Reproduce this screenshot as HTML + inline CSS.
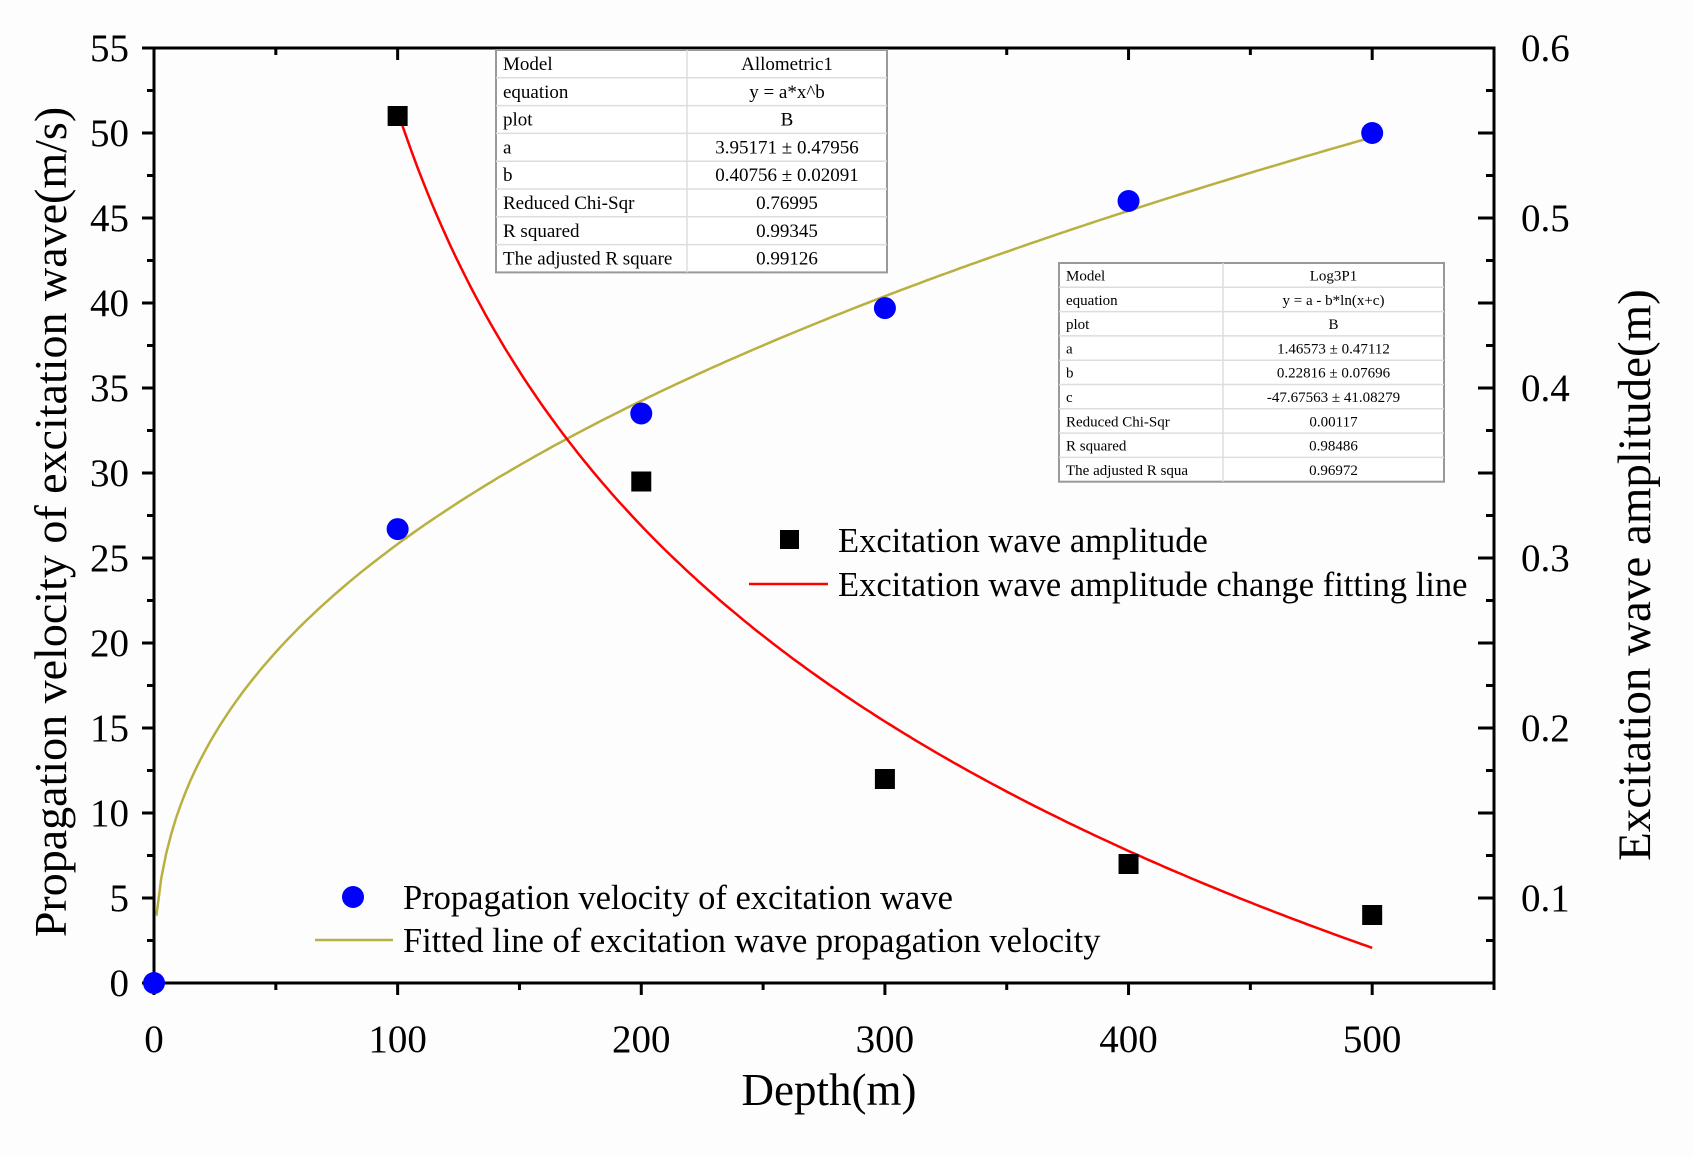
<!DOCTYPE html>
<html><head><meta charset="utf-8"><style>
html,body{margin:0;padding:0;background:#fff}
svg{display:block;font-family:"Liberation Serif",serif}
</style></head><body>
<svg id="chart" width="1694" height="1157" viewBox="0 0 1694 1157" xmlns="http://www.w3.org/2000/svg">
<rect x="0" y="0" width="1694" height="1157" fill="#fdfdfd"/>
<g id="grid"></g>
<g id="curves"></g>
<g id="marks"></g>
<g id="tables"></g>
<g id="legend"></g>
<text x="829" y="1105" font-size="45" text-anchor="middle">Depth(m)</text>
<text transform="translate(66,522) rotate(-90)" font-size="46" text-anchor="middle">Propagation velocity of excitation wave(m/s)</text>
<text transform="translate(1650,575) rotate(-90)" font-size="47" text-anchor="middle">Excitation wave amplitude(m)</text>
</svg>
<script>
const depths = [0, 100, 200, 300, 400, 500];
const velocity = [0, 26.7, 33.5, 39.7, 46.0, 50.0];
const ampDepths = [100, 200, 300, 400, 500];
const amplitude = [0.56, 0.345, 0.17, 0.12, 0.09];
const xTicks = [0, 100, 200, 300, 400, 500];
const yLeftTicks = [0, 5, 10, 15, 20, 25, 30, 35, 40, 45, 50, 55];
const yRightTicks = [0.1, 0.2, 0.3, 0.4, 0.5, 0.6];
const allomParams = [3.95171, 0.40756];
const logParams = [1.46573, 0.22816, -47.67563];
const table1Rows = [["Model","Allometric1"],["equation","y = a*x^b"],["plot","B"],["a","3.95171 ± 0.47956"],["b","0.40756 ± 0.02091"],["Reduced Chi-Sqr","0.76995"],["R squared","0.99345"],["The adjusted R square","0.99126"]];
const table2Rows = [["Model","Log3P1"],["equation","y = a - b*ln(x+c)"],["plot","B"],["a","1.46573 ± 0.47112"],["b","0.22816 ± 0.07696"],["c","-47.67563 ± 41.08279"],["Reduced Chi-Sqr","0.00117"],["R squared","0.98486"],["The adjusted R squa","0.96972"]];

const NS="http://www.w3.org/2000/svg";
const L=154,R=1494,T=48,B=983;
const X=v=>L+(v/550)*(R-L);
const YL=v=>B-(v/55)*(B-T);
const YR=v=>B-((v-0.05)/0.55)*(B-T);
function mk(tag,attrs,parent){const e=document.createElementNS(NS,tag);for(const k in attrs)e.setAttribute(k,attrs[k]);parent.appendChild(e);return e;}
const grid=document.getElementById('grid');
const frame=mk('rect',{x:L,y:T,width:R-L,height:B-T,fill:'none',stroke:'#000','stroke-width':3},grid);


for(let v=0;v<=550;v+=50){
  const major=v%100===0;const len=major?12:7;
  const t1=mk('line',{x1:X(v),x2:X(v),y1:B,y2:B+len,stroke:'#000','stroke-width':3},grid);
  
  
  mk('line',{x1:X(v),x2:X(v),y1:T,y2:T+len,stroke:'#000','stroke-width':3},grid);
}
xTicks.forEach(v=>{const t=mk('text',{x:X(v),y:1052,'font-size':39,'text-anchor':'middle'},grid);t.textContent=v;
  
  });
for(let v=0;v<=55;v+=2.5){
  const major=v%5===0;const len=major?12:7;
  const t=mk('line',{x1:L-len,x2:L,y1:YL(v),y2:YL(v),stroke:'#000','stroke-width':3},grid);
  
  
}
yLeftTicks.forEach(v=>{const t=mk('text',{x:129,y:YL(v)+13,'font-size':39,'text-anchor':'end'},grid);t.textContent=v;
  
  });
for(let i=0;i<=22;i++){
  const v=0.05+i*0.025;const major=i%2===0;const len=major?16:8;
  const t=mk('line',{x1:R-len,x2:R,y1:YR(v),y2:YR(v),stroke:'#000','stroke-width':3},grid);
  
  
}
yRightTicks.forEach(v=>{const t=mk('text',{x:1521,y:YR(v)+13,'font-size':39},grid);t.textContent=v.toFixed(1);
  
  });
const curves=document.getElementById('curves');
let p1='';for(let x=1;x<=500;x+=2){const y=allomParams[0]*Math.pow(x,allomParams[1]);p1+=(p1?'L':'M')+X(x).toFixed(1)+','+YL(y).toFixed(1);}
const c1=mk('path',{d:p1,fill:'none',stroke:'#b8b040','stroke-width':2.5},curves);


let p2='';for(let x=100;x<=500;x+=2){const y=logParams[0]-logParams[1]*Math.log(x+logParams[2]);p2+=(p2?'L':'M')+X(x).toFixed(1)+','+YR(y).toFixed(1);}
const c2=mk('path',{d:p2,fill:'none',stroke:'#ff0000','stroke-width':2.5},curves);


const marks=document.getElementById('marks');
ampDepths.forEach((d,i)=>{const s=mk('rect',{x:X(d)-10,y:YR(amplitude[i])-10,width:20,height:20,fill:'#000'},marks);
  
  });
depths.forEach((d,i)=>{const c=mk('circle',{cx:X(d),cy:YL(velocity[i]),r:11,fill:'#0000ff'},marks);
  
  });
const tables=document.getElementById('tables');
function table(rows,x0,y0,w,split,rh,fs,name){
  const g=mk('g',{},tables);
  
  
  const h=rows.length*rh;
  mk('rect',{x:x0,y:y0,width:w,height:h,fill:'#fff',stroke:'#999','stroke-width':2},g);
  mk('line',{x1:x0+split,x2:x0+split,y1:y0,y2:y0+h,stroke:'#ddd','stroke-width':1.5},g);
  rows.forEach((r,i)=>{
    if(i>0)mk('line',{x1:x0,x2:x0+w,y1:y0+i*rh,y2:y0+i*rh,stroke:'#ddd','stroke-width':1.5},g);
    const a=mk('text',{x:x0+7,y:y0+i*rh+rh*0.72,'font-size':fs},g);a.textContent=r[0];
    const b=mk('text',{x:x0+split+(w-split)/2,y:y0+i*rh+rh*0.72,'font-size':fs,'text-anchor':'middle'},g);b.textContent=r[1];
  });
}
table(table1Rows,496,50,391,191,27.8,19,'allometric-fit-table');
table(table2Rows,1059,263,385,164,24.3,15,'log-fit-table');
const lg=document.getElementById('legend');
function ltext(x,y,s,name){const t=mk('text',{x:x,y:y,'font-size':34.5},lg);t.textContent=s;
  
  }
const ls=mk('rect',{x:780,y:530,width:19,height:19,fill:'#000'},lg);


ltext(838,552,'Excitation wave amplitude','legend-amplitude-label');
const ll=mk('line',{x1:749,x2:828,y1:584,y2:584,stroke:'#ff0000','stroke-width':2.5},lg);


ltext(838,596,'Excitation wave amplitude change fitting line','legend-amplitude-fit-label');
const lc=mk('circle',{cx:353,cy:897,r:11,fill:'#0000ff'},lg);


ltext(403,909,'Propagation velocity of excitation wave','legend-velocity-label');
const lv=mk('line',{x1:315,x2:393,y1:940,y2:940,stroke:'#b8b040','stroke-width':2.5},lg);


ltext(403,952,'Fitted line of excitation wave propagation velocity','legend-velocity-fit-label');
</script>
</body></html>
